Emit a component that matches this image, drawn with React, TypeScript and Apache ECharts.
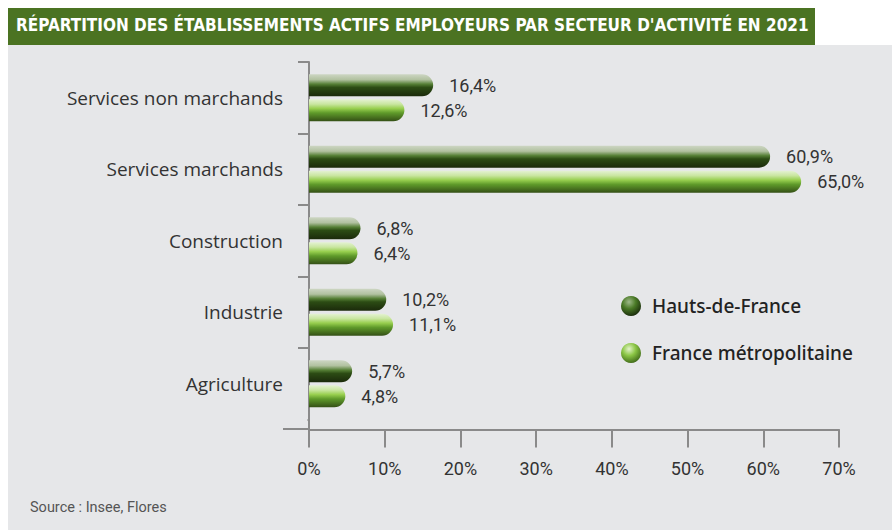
import React, { useEffect, useRef } from "react";
import * as echarts from "echarts";

const TITLE = "RÉPARTITION DES ÉTABLISSEMENTS ACTIFS EMPLOYEURS PAR SECTEUR D'ACTIVITÉ EN 2021";
const SOURCE = "Source : Insee, Flores";
const categories = ["Services non marchands", "Services marchands", "Construction", "Industrie", "Agriculture"];
const seriesNames = ["Hauts-de-France", "France métropolitaine"];
const hdfValues = [16.4, 60.9, 6.8, 10.2, 5.7];
const fmValues = [12.6, 65.0, 6.4, 11.1, 4.8];
const xTicks = [0, 10, 20, 30, 40, 50, 60, 70];

const fmt = (v: number) => v.toFixed(1).replace(".", ",") + "%";

const hdfGradient = new echarts.graphic.LinearGradient(0, 0, 0, 1, [
  { offset: 0, color: "#cdd6c3" },
  { offset: 0.25, color: "#b1c1a0" },
  { offset: 0.45, color: "#557f35" },
  { offset: 0.6, color: "#2c4c14" },
  { offset: 1, color: "#1b2a0b" },
]);
const fmGradient = new echarts.graphic.LinearGradient(0, 0, 0, 1, [
  { offset: 0, color: "#e4f2d2" },
  { offset: 0.22, color: "#c9e6a0" },
  { offset: 0.42, color: "#98cf4f" },
  { offset: 0.62, color: "#5f9a2a" },
  { offset: 1, color: "#344f16" },
]);
const hdfLegend = new echarts.graphic.RadialGradient(0.4, 0.3, 0.75, [
  { offset: 0, color: "#9fb98a" },
  { offset: 0.45, color: "#4a7a26" },
  { offset: 1, color: "#16260a" },
]);
const fmLegend = new echarts.graphic.RadialGradient(0.4, 0.3, 0.75, [
  { offset: 0, color: "#e3f3c9" },
  { offset: 0.45, color: "#8ac544" },
  { offset: 1, color: "#3b6417" },
]);

export default function App() {
  const ref = useRef<HTMLDivElement>(null);
  useEffect(() => {
    document.body.style.margin = "0";
    const chart = echarts.init(ref.current!, null, { renderer: "svg" });
    const labelStyle = {
      show: true,
      position: "right" as const,
      distance: 16,
      formatter: (p: any) => fmt(p.value),
      fontFamily: "Roboto",
      fontSize: 18,
      color: "#333",
    };
    chart.setOption({
      animation: false,
      backgroundColor: "transparent",
      graphic: [
        { type: "rect", shape: { x: 8, y: 45, width: 884, height: 485 }, style: { fill: "#e6e7e9" }, silent: true, z: -10 },
        { type: "rect", shape: { x: 8, y: 8, width: 807, height: 37 }, style: { fill: "#4b7322" }, silent: true, z: -9 },
        {
          type: "text", left: 16, top: 16,
          style: { text: TITLE, fill: "#ffffff", font: "bold 17px 'DejaVu Sans Condensed'" },
        },
        {
          type: "text", left: 30, top: 500,
          style: { text: SOURCE, fill: "#555", font: "14.5px Roboto" },
        },
        { type: "line", shape: { x1: 309, y1: 418, x2: 309, y2: 430 }, style: { stroke: "#8a8a8a", lineWidth: 2 }, z: 5 },
        { type: "line", shape: { x1: 283, y1: 429, x2: 309, y2: 429 }, style: { stroke: "#8a8a8a", lineWidth: 2 }, z: 5 },
        { type: "rect", shape: { x: 290, y: 416, width: 17.5, height: 7 }, style: { fill: "#e6e7e9" }, silent: true, z: 100 },
      ],
      legend: {
        orient: "vertical",
        left: 616,
        top: 291,
        itemWidth: 20,
        itemHeight: 20,
        itemGap: 27,
        icon: "circle",
        textStyle: { fontFamily: "'Noto Sans'", fontSize: 19, fontWeight: 500, color: "#222", padding: [0, 0, 0, 6] },
        data: [
          { name: seriesNames[0], itemStyle: { color: hdfLegend } },
          { name: seriesNames[1], itemStyle: { color: fmLegend } },
        ],
      },
      grid: { left: 309, right: 53, top: 62, height: 357.5, containLabel: false },
      xAxis: {
        type: "value",
        min: xTicks[0],
        max: xTicks[xTicks.length - 1],
        interval: 10,
        offset: 10,
        axisLine: { show: true, lineStyle: { color: "#8a8a8a", width: 2 } },
        axisTick: { show: true, length: 18, lineStyle: { color: "#8a8a8a", width: 2 } },
        axisLabel: { formatter: "{value}%", margin: 30, fontFamily: "Roboto", fontSize: 18, color: "#333" },
        splitLine: { show: false },
      },
      yAxis: {
        type: "category",
        inverse: true,
        data: categories,
        axisLine: { show: true, lineStyle: { color: "#8a8a8a", width: 2 } },
        axisTick: { show: true, length: 11, lineStyle: { color: "#8a8a8a", width: 2 } },
        axisLabel: { margin: 26, fontFamily: "'Open Sans'", fontSize: 19, color: "#333" },
      },
      series: [
        {
          name: seriesNames[0],
          type: "bar",
          data: hdfValues,
          barWidth: 22,
          barGap: "14%",
          itemStyle: { color: hdfGradient, borderRadius: [0, 11, 11, 0] },
          label: labelStyle,
        },
        {
          name: seriesNames[1],
          type: "bar",
          data: fmValues,
          barWidth: 22,
          barGap: "14%",
          itemStyle: { color: fmGradient, borderRadius: [0, 11, 11, 0] },
          label: labelStyle,
        },
      ],
    });
    return () => chart.dispose();
  }, []);
  return (
    <div style={{ width: 892, height: 530, background: "#ffffff", position: "relative", overflow: "hidden" }}>
      <div ref={ref} style={{ width: 892, height: 530 }} />
    </div>
  );
}
